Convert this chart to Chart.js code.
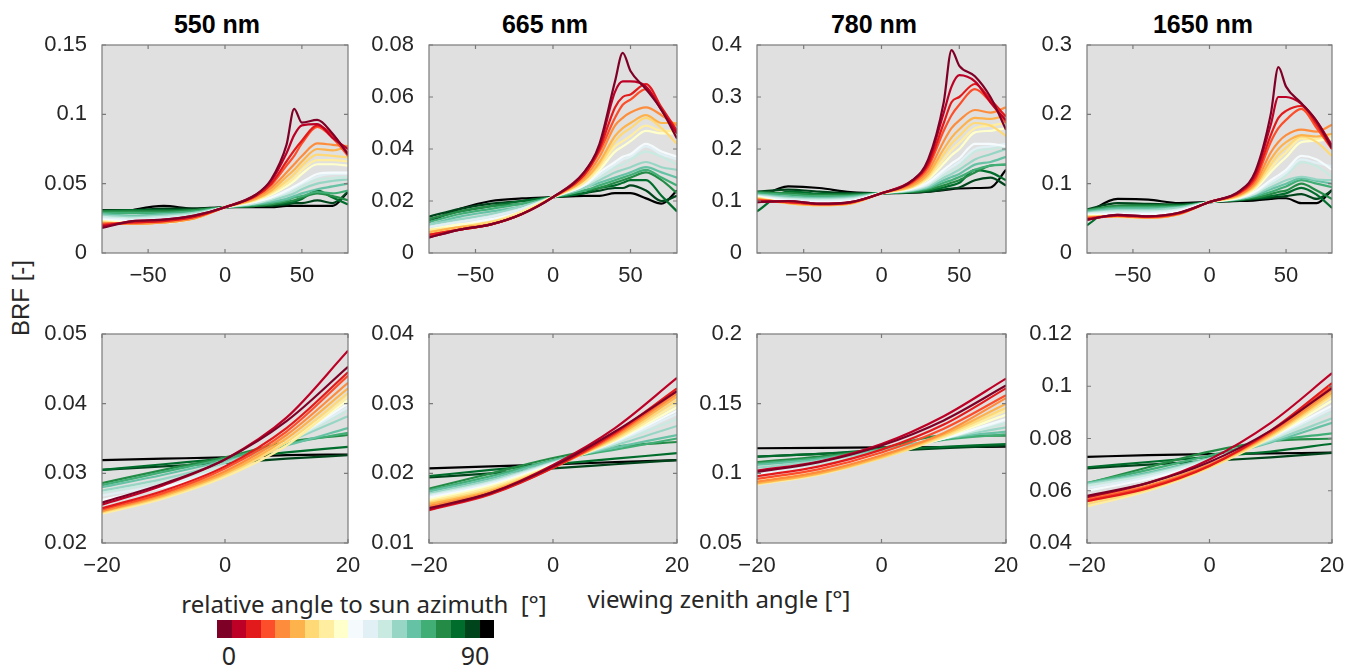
<!DOCTYPE html>
<html>
<head>
<meta charset="utf-8">
<script src="https://cdn.jsdelivr.net/npm/chart.js@4.4.0/dist/chart.umd.min.js"></script>
<style>
  body { margin: 0; width: 1357px; height: 668px; background: #fff; position: relative; overflow: hidden; font-family: "Liberation Sans", Arial, sans-serif; }
  canvas { position: absolute; }
  .title { position: absolute; top: 12px; font-size: 25px; line-height: 1; font-weight: bold; color: #000; transform: translateX(-50%); white-space: nowrap; }
  .lbl { position: absolute; line-height: 1; white-space: nowrap; color: #262626; }
  #cbar { position: absolute; left: 217px; top: 620px; height: 18px; display: flex; }
  #cbar div { width: 14.6px; height: 18px; }
</style>
</head>
<body>

<div class="title" style="left:217px">550 nm</div>
<div class="title" style="left:545px">665 nm</div>
<div class="title" style="left:874px">780 nm</div>
<div class="title" style="left:1203px">1650 nm</div>

<div class="lbl" style="left:21px;top:298px;font-size:24px;transform:translate(-50%,-50%) rotate(-90deg)">BRF [-]</div>
<div class="lbl" style="left:719px;top:599px;font-size:24px;font-family:'Noto Sans',sans-serif;transform:translate(-50%,-50%)">viewing zenith angle [°]</div>
<div class="lbl" style="left:364px;top:604px;font-size:24px;font-family:'Noto Sans',sans-serif;transform:translate(-50%,-50%)">relative angle to sun azimuth&nbsp;&nbsp;[°]</div>
<div id="cbar"></div>
<div class="lbl" style="left:229px;top:655px;font-size:25px;font-family:'Noto Sans',sans-serif;transform:translate(-50%,-50%)">0</div>
<div class="lbl" style="left:475px;top:655px;font-size:25px;font-family:'Noto Sans',sans-serif;transform:translate(-50%,-50%)">90</div>

<script>
// relative azimuth angles 0..90 (5 deg steps), one line each
var angles = [0,5,10,15,20,25,30,35,40,45,50,55,60,65,70,75,80,85,90];
var colors = ['#7f0027','#bd0026','#e31a1c','#fc4e2a','#fd8d3c','#feb24c','#fed976','#ffeda0','#ffffcc',
              '#f5fbfc','#e0f0f5','#c8eae1','#97d6c4','#66c2a4','#41ae76','#238b45','#006d2c','#00441b','#000000'];

var bands = ['550 nm','665 nm','780 nm','1650 nm'];

// viewing zenith angles
var vzaTop = [-80,-60,-40,-20,0,20,30,40,45,50,60,70,80];
var vzaBottom = [-20,-10,0,10,20];

var xTicksTop = [-50,0,50];
var xTicksBottom = [-20,0,20];
var yTicks550Top = [0,0.05,0.1,0.15];
var yTicks665Top = [0,0.02,0.04,0.06,0.08];
var yTicks780Top = [0,0.1,0.2,0.3,0.4];
var yTicks1650Top = [0,0.1,0.2,0.3];
var yTicks550Bottom = [0.02,0.03,0.04,0.05];
var yTicks665Bottom = [0.01,0.02,0.03,0.04];
var yTicks780Bottom = [0.05,0.1,0.15,0.2];
var yTicks1650Bottom = [0.04,0.06,0.08,0.1,0.12];

// BRF, full range, one row per azimuth
var brf550Top = [
  [0.018,0.023,0.024,0.027,0.033,0.042,0.053,0.078,0.104,0.094,0.096,0.086,0.071],
  [0.019,0.023,0.024,0.027,0.033,0.042,0.052,0.072,0.085,0.092,0.093,0.083,0.075],
  [0.020,0.022,0.023,0.026,0.033,0.041,0.050,0.066,0.074,0.081,0.092,0.085,0.072],
  [0.021,0.022,0.023,0.026,0.033,0.041,0.049,0.063,0.070,0.079,0.091,0.083,0.070],
  [0.021,0.021,0.022,0.025,0.033,0.040,0.047,0.058,0.064,0.070,0.079,0.078,0.077],
  [0.022,0.021,0.022,0.025,0.033,0.039,0.045,0.055,0.060,0.066,0.075,0.074,0.077],
  [0.022,0.021,0.022,0.025,0.033,0.039,0.044,0.052,0.057,0.063,0.071,0.070,0.069],
  [0.023,0.021,0.022,0.025,0.033,0.038,0.043,0.050,0.054,0.060,0.067,0.067,0.066],
  [0.023,0.022,0.022,0.025,0.033,0.038,0.042,0.048,0.052,0.057,0.064,0.064,0.063],
  [0.024,0.023,0.024,0.027,0.033,0.037,0.040,0.045,0.048,0.051,0.057,0.058,0.058],
  [0.025,0.024,0.025,0.027,0.033,0.037,0.040,0.044,0.047,0.050,0.055,0.057,0.057],
  [0.026,0.025,0.026,0.028,0.033,0.036,0.039,0.043,0.045,0.048,0.053,0.054,0.055],
  [0.027,0.026,0.027,0.029,0.033,0.036,0.038,0.041,0.043,0.046,0.050,0.052,0.053],
  [0.028,0.027,0.028,0.029,0.033,0.035,0.037,0.039,0.041,0.043,0.046,0.048,0.050],
  [0.029,0.029,0.029,0.030,0.033,0.035,0.036,0.038,0.040,0.041,0.044,0.043,0.045],
  [0.030,0.030,0.030,0.031,0.033,0.034,0.035,0.037,0.038,0.040,0.043,0.041,0.038],
  [0.030,0.031,0.031,0.031,0.033,0.034,0.035,0.036,0.037,0.039,0.045,0.040,0.035],
  [0.031,0.031,0.032,0.032,0.033,0.034,0.034,0.035,0.036,0.036,0.038,0.036,0.044],
  [0.026,0.031,0.034,0.032,0.033,0.033,0.033,0.034,0.034,0.034,0.034,0.034,0.044]
];
var brf665Top = [
  [0.006,0.009,0.011,0.015,0.0215,0.031,0.042,0.066,0.077,0.070,0.063,0.055,0.044],
  [0.006,0.009,0.011,0.015,0.0215,0.031,0.041,0.062,0.066,0.066,0.064,0.055,0.046],
  [0.007,0.009,0.011,0.015,0.0215,0.030,0.040,0.056,0.060,0.061,0.065,0.056,0.047],
  [0.007,0.009,0.011,0.015,0.0215,0.030,0.039,0.052,0.057,0.059,0.063,0.055,0.046],
  [0.007,0.009,0.011,0.015,0.0215,0.029,0.037,0.049,0.052,0.054,0.056,0.053,0.049],
  [0.008,0.010,0.011,0.015,0.0215,0.028,0.035,0.045,0.048,0.050,0.053,0.050,0.050],
  [0.008,0.010,0.012,0.015,0.0215,0.028,0.034,0.043,0.046,0.048,0.052,0.048,0.042],
  [0.009,0.010,0.012,0.016,0.0215,0.027,0.033,0.041,0.043,0.045,0.049,0.047,0.047],
  [0.009,0.011,0.012,0.016,0.0215,0.027,0.032,0.039,0.041,0.043,0.047,0.046,0.046],
  [0.009,0.011,0.013,0.016,0.0215,0.026,0.031,0.035,0.037,0.038,0.042,0.039,0.037],
  [0.010,0.012,0.014,0.017,0.0215,0.026,0.030,0.034,0.036,0.037,0.041,0.038,0.036],
  [0.010,0.012,0.014,0.017,0.0215,0.026,0.029,0.033,0.034,0.036,0.039,0.037,0.034],
  [0.011,0.013,0.015,0.018,0.0215,0.025,0.028,0.031,0.032,0.033,0.035,0.033,0.032],
  [0.011,0.014,0.016,0.018,0.0215,0.025,0.027,0.029,0.030,0.031,0.033,0.031,0.029],
  [0.012,0.015,0.017,0.019,0.0215,0.024,0.026,0.028,0.029,0.030,0.032,0.029,0.026],
  [0.013,0.016,0.018,0.019,0.0215,0.024,0.025,0.027,0.028,0.029,0.031,0.028,0.023],
  [0.013,0.016,0.018,0.020,0.0215,0.023,0.025,0.026,0.027,0.028,0.028,0.022,0.016],
  [0.014,0.017,0.019,0.020,0.0215,0.023,0.024,0.025,0.025,0.026,0.024,0.020,0.022],
  [0.012,0.017,0.020,0.021,0.0215,0.022,0.022,0.023,0.023,0.023,0.021,0.019,0.024]
];
var brf780Top = [
  [0.098,0.100,0.095,0.098,0.115,0.140,0.180,0.290,0.390,0.360,0.340,0.300,0.237],
  [0.098,0.100,0.095,0.098,0.115,0.140,0.175,0.270,0.320,0.342,0.330,0.290,0.255],
  [0.100,0.098,0.094,0.097,0.115,0.138,0.170,0.250,0.290,0.300,0.325,0.295,0.262],
  [0.102,0.098,0.094,0.097,0.115,0.136,0.165,0.235,0.265,0.285,0.315,0.290,0.250],
  [0.103,0.097,0.093,0.096,0.115,0.133,0.158,0.215,0.240,0.255,0.275,0.270,0.280],
  [0.104,0.096,0.092,0.095,0.115,0.130,0.152,0.200,0.222,0.238,0.260,0.258,0.265],
  [0.105,0.096,0.092,0.095,0.115,0.128,0.148,0.190,0.210,0.225,0.250,0.245,0.225],
  [0.106,0.096,0.092,0.095,0.115,0.127,0.145,0.180,0.198,0.212,0.240,0.245,0.250],
  [0.107,0.097,0.093,0.096,0.115,0.126,0.142,0.172,0.188,0.200,0.232,0.235,0.240],
  [0.108,0.100,0.098,0.100,0.115,0.124,0.136,0.160,0.172,0.182,0.210,0.210,0.205],
  [0.109,0.102,0.100,0.102,0.115,0.123,0.133,0.155,0.165,0.175,0.200,0.205,0.210],
  [0.110,0.104,0.102,0.104,0.115,0.122,0.131,0.150,0.158,0.168,0.195,0.200,0.205],
  [0.112,0.106,0.104,0.106,0.115,0.121,0.128,0.145,0.152,0.160,0.180,0.190,0.200],
  [0.113,0.108,0.106,0.108,0.115,0.120,0.126,0.140,0.146,0.152,0.170,0.175,0.185],
  [0.115,0.112,0.109,0.110,0.115,0.119,0.124,0.135,0.140,0.146,0.160,0.168,0.170],
  [0.117,0.115,0.112,0.112,0.115,0.118,0.122,0.130,0.135,0.140,0.155,0.168,0.170],
  [0.080,0.118,0.114,0.113,0.115,0.117,0.120,0.126,0.130,0.135,0.160,0.155,0.140],
  [0.118,0.122,0.118,0.115,0.115,0.117,0.118,0.122,0.124,0.126,0.140,0.145,0.130],
  [0.104,0.128,0.125,0.117,0.115,0.116,0.118,0.121,0.123,0.124,0.125,0.126,0.160]
];
var brf1650Top = [
  [0.048,0.055,0.053,0.058,0.0735,0.090,0.118,0.200,0.268,0.240,0.216,0.190,0.151],
  [0.048,0.055,0.053,0.058,0.0735,0.089,0.115,0.185,0.225,0.225,0.215,0.190,0.155],
  [0.049,0.054,0.052,0.057,0.0735,0.088,0.110,0.170,0.195,0.205,0.212,0.185,0.150],
  [0.050,0.054,0.052,0.057,0.0735,0.087,0.106,0.160,0.180,0.192,0.208,0.180,0.150],
  [0.051,0.053,0.051,0.056,0.0735,0.085,0.102,0.145,0.160,0.170,0.178,0.175,0.185],
  [0.052,0.053,0.051,0.056,0.0735,0.084,0.099,0.135,0.150,0.160,0.170,0.168,0.172],
  [0.052,0.052,0.051,0.056,0.0735,0.083,0.097,0.128,0.142,0.152,0.168,0.160,0.140],
  [0.053,0.052,0.051,0.056,0.0735,0.082,0.095,0.122,0.135,0.145,0.165,0.165,0.170],
  [0.054,0.053,0.052,0.057,0.0735,0.081,0.093,0.117,0.128,0.138,0.160,0.162,0.165],
  [0.055,0.056,0.056,0.060,0.0735,0.080,0.089,0.105,0.112,0.120,0.140,0.135,0.120],
  [0.056,0.058,0.058,0.062,0.0735,0.080,0.088,0.102,0.108,0.116,0.135,0.130,0.125],
  [0.057,0.060,0.060,0.063,0.0735,0.079,0.086,0.099,0.105,0.112,0.131,0.125,0.110],
  [0.058,0.062,0.062,0.065,0.0735,0.079,0.085,0.095,0.100,0.105,0.110,0.106,0.105],
  [0.059,0.064,0.064,0.066,0.0735,0.078,0.083,0.092,0.096,0.100,0.108,0.104,0.100],
  [0.061,0.066,0.066,0.067,0.0735,0.078,0.082,0.088,0.092,0.096,0.105,0.100,0.095],
  [0.062,0.068,0.068,0.068,0.0735,0.077,0.080,0.085,0.088,0.090,0.100,0.090,0.078],
  [0.040,0.068,0.069,0.069,0.0735,0.077,0.079,0.082,0.084,0.086,0.094,0.084,0.065],
  [0.063,0.072,0.071,0.070,0.0735,0.076,0.078,0.080,0.081,0.082,0.085,0.078,0.090],
  [0.058,0.078,0.077,0.072,0.0735,0.075,0.076,0.078,0.079,0.079,0.072,0.072,0.091]
];

// BRF, zoom on -20..20
var brf550Bottom = [
  [0.0258,0.0285,0.0320,0.0375,0.0453],
  [0.0255,0.0283,0.0320,0.0380,0.0476],
  [0.0250,0.0275,0.0310,0.0365,0.0445],
  [0.0248,0.0272,0.0307,0.0360,0.0440],
  [0.0246,0.0270,0.0303,0.0355,0.0430],
  [0.0245,0.0268,0.0300,0.0350,0.0422],
  [0.0244,0.0266,0.0298,0.0345,0.0415],
  [0.0242,0.0264,0.0295,0.0340,0.0410],
  [0.0250,0.0270,0.0300,0.0345,0.0405],
  [0.0262,0.0280,0.0305,0.0345,0.0400],
  [0.0268,0.0284,0.0308,0.0345,0.0395],
  [0.0272,0.0288,0.0310,0.0345,0.0390],
  [0.0275,0.0292,0.0315,0.0345,0.0382],
  [0.0280,0.0298,0.0318,0.0340,0.0365],
  [0.0283,0.0302,0.0321,0.0342,0.0358],
  [0.0286,0.0305,0.0323,0.0345,0.0355],
  [0.0305,0.0313,0.0321,0.0330,0.0338],
  [0.0305,0.0310,0.0315,0.0321,0.0326],
  [0.0319,0.0321,0.0323,0.0326,0.0327]
];
var brf665Bottom = [
  [0.0150,0.0172,0.0210,0.0260,0.0318],
  [0.0148,0.0172,0.0212,0.0265,0.0337],
  [0.0147,0.0170,0.0208,0.0258,0.0322],
  [0.0150,0.0171,0.0208,0.0256,0.0318],
  [0.0153,0.0173,0.0208,0.0254,0.0314],
  [0.0156,0.0175,0.0209,0.0252,0.0310],
  [0.0158,0.0177,0.0210,0.0250,0.0305],
  [0.0160,0.0180,0.0211,0.0248,0.0300],
  [0.0162,0.0182,0.0212,0.0247,0.0295],
  [0.0165,0.0184,0.0213,0.0246,0.0290],
  [0.0167,0.0186,0.0214,0.0245,0.0285],
  [0.0169,0.0188,0.0215,0.0243,0.0278],
  [0.0171,0.0190,0.0216,0.0240,0.0268],
  [0.0174,0.0193,0.0218,0.0237,0.0255],
  [0.0176,0.0196,0.0219,0.0234,0.0250],
  [0.0178,0.0200,0.0222,0.0238,0.0245],
  [0.0196,0.0205,0.0213,0.0221,0.0229],
  [0.0194,0.0200,0.0207,0.0213,0.0219],
  [0.0207,0.0210,0.0213,0.0216,0.0219]
];
var brf780Bottom = [
  [0.1010,0.1080,0.1200,0.1380,0.1630],
  [0.1020,0.1085,0.1210,0.1410,0.1680],
  [0.0980,0.1050,0.1170,0.1350,0.1610],
  [0.0960,0.1030,0.1150,0.1320,0.1560],
  [0.0940,0.1010,0.1130,0.1290,0.1540],
  [0.0930,0.1000,0.1120,0.1280,0.1500],
  [0.0925,0.0995,0.1110,0.1270,0.1470],
  [0.0920,0.0990,0.1110,0.1260,0.1450],
  [0.0950,0.1010,0.1120,0.1260,0.1420],
  [0.0990,0.1040,0.1130,0.1250,0.1390],
  [0.1000,0.1050,0.1140,0.1250,0.1380],
  [0.1020,0.1070,0.1150,0.1250,0.1360],
  [0.1040,0.1090,0.1160,0.1250,0.1330],
  [0.1060,0.1100,0.1170,0.1250,0.1300],
  [0.1070,0.1110,0.1170,0.1240,0.1280],
  [0.1080,0.1120,0.1180,0.1270,0.1270],
  [0.1120,0.1140,0.1170,0.1190,0.1210],
  [0.1120,0.1140,0.1160,0.1180,0.1200],
  [0.1180,0.1183,0.1186,0.1189,0.1191]
];
var brf1650Bottom = [
  [0.0580,0.0630,0.0710,0.0830,0.0993],
  [0.0575,0.0630,0.0720,0.0860,0.1050],
  [0.0560,0.0610,0.0695,0.0830,0.1012],
  [0.0565,0.0615,0.0697,0.0825,0.1000],
  [0.0572,0.0620,0.0700,0.0820,0.0986],
  [0.0560,0.0612,0.0695,0.0815,0.0975],
  [0.0550,0.0605,0.0690,0.0810,0.0967],
  [0.0540,0.0600,0.0688,0.0805,0.0960],
  [0.0575,0.0625,0.0700,0.0805,0.0945],
  [0.0600,0.0645,0.0710,0.0805,0.0925],
  [0.0610,0.0652,0.0715,0.0800,0.0915],
  [0.0620,0.0660,0.0720,0.0795,0.0900],
  [0.0625,0.0665,0.0722,0.0790,0.0877],
  [0.0628,0.0670,0.0725,0.0785,0.0860],
  [0.0630,0.0680,0.0735,0.0790,0.0820],
  [0.0628,0.0690,0.0750,0.0790,0.0800],
  [0.0690,0.0710,0.0730,0.0750,0.0780],
  [0.0686,0.0700,0.0714,0.0728,0.0745],
  [0.0730,0.0736,0.0740,0.0743,0.0746]
];

// plot boxes on the page
var lefts = [102, 429, 757, 1087];
var widths = [246, 248, 249, 245];

var panels = [
  {col:0, top:45,  h:208, x:vzaTop,    xMin:-80, xMax:80, xTicks:xTicksTop,    yMin:0,    yMax:0.15, yTicks:yTicks550Top,     rows:brf550Top},
  {col:1, top:45,  h:208, x:vzaTop,    xMin:-80, xMax:80, xTicks:xTicksTop,    yMin:0,    yMax:0.08, yTicks:yTicks665Top,     rows:brf665Top},
  {col:2, top:45,  h:208, x:vzaTop,    xMin:-80, xMax:80, xTicks:xTicksTop,    yMin:0,    yMax:0.4,  yTicks:yTicks780Top,     rows:brf780Top},
  {col:3, top:45,  h:208, x:vzaTop,    xMin:-80, xMax:80, xTicks:xTicksTop,    yMin:0,    yMax:0.3,  yTicks:yTicks1650Top,    rows:brf1650Top},
  {col:0, top:334, h:209, x:vzaBottom, xMin:-20, xMax:20, xTicks:xTicksBottom, yMin:0.02, yMax:0.05, yTicks:yTicks550Bottom,  rows:brf550Bottom},
  {col:1, top:334, h:209, x:vzaBottom, xMin:-20, xMax:20, xTicks:xTicksBottom, yMin:0.01, yMax:0.04, yTicks:yTicks665Bottom,  rows:brf665Bottom},
  {col:2, top:334, h:209, x:vzaBottom, xMin:-20, xMax:20, xTicks:xTicksBottom, yMin:0.05, yMax:0.2,  yTicks:yTicks780Bottom,  rows:brf780Bottom},
  {col:3, top:334, h:209, x:vzaBottom, xMin:-20, xMax:20, xTicks:xTicksBottom, yMin:0.04, yMax:0.12, yTicks:yTicks1650Bottom, rows:brf1650Bottom}
];

var AXW = 80, PADT = 14, PADR = 14, AXH = 44;

function fmt(v) {
  return String(v).replace('-', '\u2212');
}

// grey plot area, box and inward ticks on all four sides
var frame = {
  id: 'frame',
  beforeDatasetsDraw: function(chart) {
    var a = chart.chartArea, c = chart.ctx;
    c.save();
    c.fillStyle = '#e0e0e0';
    c.fillRect(a.left, a.top, a.right - a.left, a.bottom - a.top);
    c.restore();
  },
  afterDraw: function(chart) {
    var a = chart.chartArea, c = chart.ctx;
    var xs = chart.scales.x, ys = chart.scales.y;
    c.save();
    c.strokeStyle = '#7a7a7a';
    c.lineWidth = 1.2;
    c.strokeRect(a.left, a.top, a.right - a.left, a.bottom - a.top);
    c.beginPath();
    xs.ticks.forEach(function(t) {
      var px = xs.getPixelForValue(t.value);
      c.moveTo(px, a.bottom); c.lineTo(px, a.bottom - 4);
      c.moveTo(px, a.top); c.lineTo(px, a.top + 4);
    });
    ys.ticks.forEach(function(t) {
      var py = ys.getPixelForValue(t.value);
      c.moveTo(a.left, py); c.lineTo(a.left + 4, py);
      c.moveTo(a.right, py); c.lineTo(a.right - 4, py);
    });
    c.stroke();
    c.restore();
  }
};

panels.forEach(function(p) {
  var w = widths[p.col];
  var cv = document.createElement('canvas');
  cv.width = w + AXW + PADR;
  cv.height = p.h + PADT + AXH;
  cv.style.left = (lefts[p.col] - AXW) + 'px';
  cv.style.top = (p.top - PADT) + 'px';
  document.body.appendChild(cv);

  var datasets = p.rows.map(function(row, s) {
    return {
      label: angles[s] + '°',
      data: row.map(function(v, i) { return {x: p.x[i], y: v}; }),
      borderColor: colors[s],
      borderWidth: 2.2,
      pointRadius: 0,
      fill: false,
      cubicInterpolationMode: 'monotone'
    };
  });

  var tickFont = {family: 'Liberation Sans', size: 22};

  new Chart(cv.getContext('2d'), {
    type: 'line',
    data: {datasets: datasets},
    options: {
      responsive: false,
      animation: false,
      layout: {padding: {top: PADT, right: PADR, left: 0, bottom: 0}},
      plugins: {legend: {display: false}, tooltip: {enabled: false}},
      scales: {
        x: {
          type: 'linear', min: p.xMin, max: p.xMax,
          afterBuildTicks: function(s) { s.ticks = p.xTicks.map(function(v) { return {value: v}; }); },
          afterFit: function(s) { s.height = AXH; s.paddingLeft = 0; s.paddingRight = 0; },
          grid: {display: false, drawTicks: false},
          border: {display: false},
          ticks: {padding: 10, color: '#262626', font: tickFont, maxRotation: 0, callback: fmt}
        },
        y: {
          type: 'linear', min: p.yMin, max: p.yMax,
          afterBuildTicks: function(s) { s.ticks = p.yTicks.map(function(v) { return {value: v}; }); },
          afterFit: function(s) { s.width = AXW; s.paddingTop = 0; s.paddingBottom = 0; },
          grid: {display: false, drawTicks: false},
          border: {display: false},
          ticks: {padding: 15, color: '#262626', font: tickFont, callback: fmt}
        }
      }
    },
    plugins: [frame]
  });
});

// colour bar
var bar = document.getElementById('cbar');
colors.forEach(function(col) {
  var d = document.createElement('div');
  d.style.background = col;
  bar.appendChild(d);
});
</script>
</body>
</html>
